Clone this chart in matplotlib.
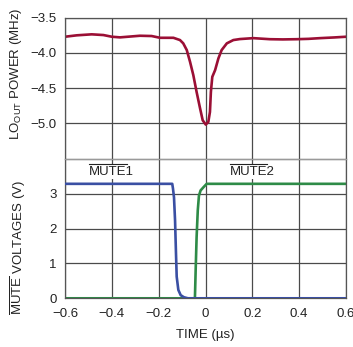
import numpy as np
import matplotlib
matplotlib.use("Agg")
import matplotlib.pyplot as plt
from matplotlib.lines import Line2D

plt.rcParams['font.family'] = ['Liberation Sans', 'DejaVu Sans']
plt.rcParams['mathtext.fontset'] = 'custom'
plt.rcParams['mathtext.rm'] = 'Liberation Sans'
plt.rcParams['mathtext.it'] = 'Liberation Sans'

# LO_OUT power trace (axis labelled MHz)
t_lo = [-0.6, -0.55, -0.486, -0.436, -0.40, -0.365, -0.28, -0.23, -0.194,
        -0.137, -0.109, -0.095, -0.080, -0.066, -0.052, -0.038, -0.023,
        -0.012, 0.001, 0.012, 0.019, 0.023, 0.029, 0.041, 0.055, 0.069,
        0.091, 0.119, 0.147, 0.204, 0.275, 0.33, 0.389, 0.44, 0.489, 0.55, 0.6]
p_lo = [-3.770, -3.750, -3.736, -3.746, -3.770, -3.779, -3.756, -3.760, -3.785,
        -3.785, -3.817, -3.864, -3.959, -4.126, -4.315, -4.553, -4.789,
        -4.955, -5.016, -4.979, -4.837, -4.553, -4.339, -4.244, -4.078, -3.959,
        -3.864, -3.817, -3.803, -3.790, -3.805, -3.808, -3.805, -3.800, -3.790, -3.780, -3.770]

# MUTE1 voltage
t_m1 = [-0.6, -0.142, -0.139, -0.1345, -0.130, -0.126, -0.123, -0.116, -0.106,
        -0.092, -0.075, 0.6]
v_m1 = [3.28, 3.28, 3.15, 2.89, 2.23, 1.28, 0.62, 0.24, 0.09, 0.03, 0.0, 0.0]

# MUTE2 voltage
t_m2 = [-0.6, -0.046, -0.045, -0.042, -0.038, -0.033, -0.028, -0.021, -0.009,
        0.005, 0.6]
v_m2 = [0.0, 0.0, 0.05, 0.81, 1.75, 2.52, 2.94, 3.09, 3.18, 3.28, 3.28]

W, H = 353, 347
fig = plt.figure(figsize=(W / 100, H / 100), dpi=100)
left, right = 65 / W, 346 / W
top, mid, bot = 1 - 17.7 / H, 1 - 158.7 / H, 1 - 298.3 / H
ax1 = fig.add_axes([left, mid, right - left, top - mid])
ax2 = fig.add_axes([left, bot, right - left, mid - bot])

grid_c = '#4a4a4a'
txt_c = '#222222'
fs = 9.5
for ax in (ax1, ax2):
    ax.set_xlim(-0.6, 0.6)
    ax.set_xticks([-0.6, -0.4, -0.2, 0, 0.2, 0.4, 0.6])
    ax.grid(True, color=grid_c, lw=0.9)
    ax.set_axisbelow(True)
    ax.tick_params(length=0, labelsize=fs, colors=txt_c)
    for s in ax.spines.values():
        s.set_color('#555555')
        s.set_linewidth(0.9)

ax1.set_ylim(-5.5, -3.5)
ax1.set_yticks([-3.5, -4.0, -4.5, -5.0, -5.5])
ax1.set_yticklabels(['\u22123.5', '\u22124.0', '\u22124.5', '\u22125.0', ''])
ax1.tick_params(axis='x', labelbottom=False)
ax1.tick_params(axis='y', pad=6)
ax1.spines['bottom'].set_visible(False)
ax1.plot(t_lo, p_lo, color='#9b0f35', lw=1.9, solid_capstyle='round',
         solid_joinstyle='round')

ax2.set_ylim(0, 4)
ax2.set_yticks([0, 1, 2, 3, 4])
ax2.set_yticklabels(['0', '1', '2', '3', ''])
ax2.set_xticklabels(['\u22120.6', '\u22120.4', '\u22120.2', '0', '0.2', '0.4', '0.6'])
ax2.tick_params(axis='y', pad=6)
ax2.tick_params(axis='x', pad=7)
ax2.spines['top'].set_color('#9a9a9a')
ax2.plot(t_m1, v_m1, color='#3a4fa3', lw=1.9, zorder=3, solid_joinstyle='round')
ax2.plot(t_m2, v_m2, color='#2e8b47', lw=1.9, zorder=2, solid_joinstyle='round')

box = dict(facecolor='white', edgecolor='none', pad=1)
renderer = fig.canvas.get_renderer()


def overlined_label(ax, x, y, head, tail):
    # plain text, then a thin bar over the "head" part
    t = ax.text(x, y, head + tail, ha='center', va='center', fontsize=fs,
                bbox=box, color=txt_c, zorder=5)
    probe = ax.text(x, y, head, fontsize=fs)
    w = probe.get_window_extent(renderer).width
    probe.remove()
    bb = t.get_window_extent(renderer)
    y0 = bb.y1 + 1.5
    fig.add_artist(Line2D([bb.x0, bb.x0 + w], [y0, y0], transform=None,
                          color=txt_c, lw=0.8, zorder=6))


overlined_label(ax2, -0.4, 3.63, 'MUTE', '1')
overlined_label(ax2, 0.2, 3.63, 'MUTE', '2')

fig.text(16 / W, 1 - 74 / H, r'LO$_{\mathrm{OUT}}$ POWER (MHz)', rotation=90,
         ha='center', va='center', fontsize=fs, color=txt_c)
fig.text(18 / W, 1 - 247 / H, r'$\overline{\mathrm{MUTE}}$ VOLTAGES (V)', rotation=90,
         ha='center', va='center', fontsize=fs, color=txt_c)
fig.text(205 / W, 1 - 335 / H, 'TIME (\u00b5s)', ha='center', va='center',
         fontsize=fs, color=txt_c)

fig.savefig('out.png', dpi=100)
